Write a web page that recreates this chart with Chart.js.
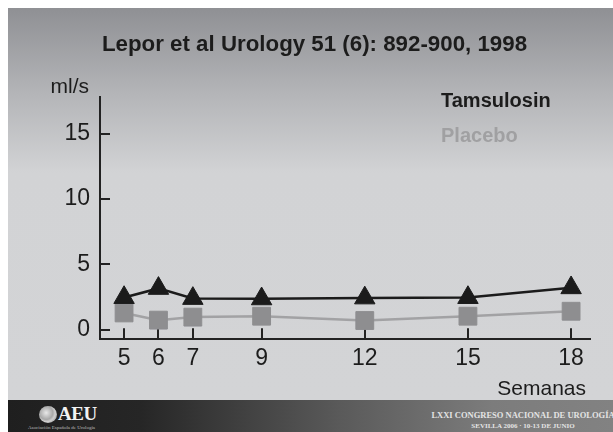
<!DOCTYPE html>
<html lang="es">
<head>
    <meta charset="UTF-8">
    <title>Lepor et al Urology 51 (6): 892-900, 1998</title>
    <script src="https://cdn.jsdelivr.net/npm/chart.js"></script>
    <style>
        body {
            margin: 0;
            background: #ffffff;
            font-family: 'Liberation Sans', Arial, sans-serif;
        }
        .lamina {
            position: relative;
            width: 613px;
            height: 432px;
            overflow: hidden;
        }
        .fondo {
            position: absolute;
            left: 8px;
            top: 8px;
            width: 605px;
            height: 392px;
            background: linear-gradient(to bottom, #8f9094 0%, #b4b5b8 22%, #d2d3d5 42%, #d3d4d6 100%);
        }
        .banda {
            position: absolute;
            left: 8px;
            top: 400px;
            width: 605px;
            height: 32px;
            background: linear-gradient(to right, #1f1f1f 0%, #262626 22%, #5a5a5a 55%, #7c7c7c 80%, #828282 100%);
        }
        .escudo {
            position: absolute;
            left: 39px;
            top: 406px;
            width: 18px;
            height: 17px;
            border-radius: 50%;
            background: radial-gradient(circle at 40% 40%, #e8e8e8 0%, #a8a8a8 45%, #d0d0d0 60%, #7a7a7a 100%);
        }
        .aeu {
            position: absolute;
            left: 58px;
            top: 403px;
            color: #f2f2f2;
            font-family: 'Liberation Serif', 'DejaVu Serif', serif;
            font-weight: bold;
            font-size: 19px;
            letter-spacing: -0.5px;
        }
        .asoc {
            position: absolute;
            left: 28px;
            top: 425px;
            color: #bdbdbd;
            font-family: 'Liberation Serif', serif;
            font-size: 5px;
            white-space: nowrap;
        }
        .congreso {
            position: absolute;
            left: 428px;
            width: 190px;
            text-align: center;
            color: #e4e4e4;
            font-family: 'Liberation Serif', 'DejaVu Serif', serif;
            font-weight: bold;
            white-space: nowrap;
        }
        canvas {
            position: absolute;
            left: 0;
            top: 0;
        }
    </style>
</head>
<body>
<div class="lamina">
    <div class="fondo"></div>
    <div class="banda"></div>
    <div class="escudo"></div>
    <div class="aeu">AEU</div>
    <div class="asoc">Asociación Española de Urología</div>
    <div class="congreso" style="top:410px;font-size:8.5px;">LXXI CONGRESO NACIONAL DE UROLOGÍA</div>
    <div class="congreso" style="top:422px;font-size:7px;">SEVILLA 2006 · 10-13 DE JUNIO</div>
    <canvas id="grafico" width="613" height="432"></canvas>
</div>
<script>
    // datos
    const semanas = [5, 6, 7, 9, 12, 15, 18];
    const tamsulosina = [2.45, 3.15, 2.38, 2.35, 2.42, 2.45, 3.2];
    const placebo = [1.27, 0.72, 0.95, 1.02, 0.69, 1.02, 1.4];
    const ticksY = [0, 5, 10, 15];
    const ticksX = semanas;

    const fuente = "'Liberation Sans', Arial, sans-serif";
    const negro = "#1c1c1c";

    function puntos(valores) {
        return semanas.map((s, i) => ({ x: s, y: valores[i] }));
    }

    // marcas de los ejes hacia dentro y textos de la lamina
    const decorado = {
        id: "decorado",
        beforeDatasetsDraw(chart) {
            const ctx = chart.ctx;
            const x = chart.scales.x, y = chart.scales.y;
            const area = chart.chartArea;
            ctx.save();
            ctx.strokeStyle = "#222222";
            ctx.lineWidth = 2;
            ctx.beginPath();
            ticksY.forEach(v => {
                const py = Math.round(y.getPixelForValue(v));
                ctx.moveTo(area.left, py);
                ctx.lineTo(area.left + 10, py);
            });
            ticksX.forEach(v => {
                const px = Math.round(x.getPixelForValue(v));
                ctx.moveTo(px, area.bottom);
                ctx.lineTo(px, area.bottom - 11);
            });
            ctx.stroke();
            ctx.restore();
        },
        afterDraw(chart) {
            const ctx = chart.ctx;
            ctx.save();
            ctx.textBaseline = "alphabetic";

            ctx.fillStyle = negro;
            ctx.font = "bold 22.3px " + fuente;
            ctx.textAlign = "center";
            ctx.fillText("Lepor et al Urology 51 (6): 892-900, 1998", 314.5, 51);

            ctx.font = "21px " + fuente;
            ctx.textAlign = "right";
            ctx.fillText("ml/s", 89, 92.5);
            ctx.fillText("Semanas", 586, 395);

            ctx.textAlign = "left";
            ctx.font = "bold 20px " + fuente;
            ctx.fillText("Tamsulosin", 441, 107);
            ctx.fillStyle = "#a0a0a2";
            ctx.fillText("Placebo", 441, 142);
            ctx.restore();
        }
    };

    new Chart(document.getElementById("grafico"), {
        type: "line",
        data: {
            datasets: [{
                label: "Tamsulosin",
                data: puntos(tamsulosina),
                borderColor: "#1b1b1b",
                borderWidth: 2.5,
                pointStyle: "triangle",
                pointRadius: 11.8,
                pointBackgroundColor: "#1b1b1b",
                pointBorderColor: "#1b1b1b",
                pointBorderWidth: 1,
                tension: 0,
                clip: false
            }, {
                label: "Placebo",
                data: puntos(placebo),
                borderColor: "#a2a2a4",
                borderWidth: 2.5,
                pointStyle: "rect",
                pointRadius: 12.6,
                pointBackgroundColor: "#8e8e90",
                pointBorderColor: "#8e8e90",
                pointBorderWidth: 1,
                tension: 0,
                clip: false
            }]
        },
        options: {
            responsive: false,
            animation: false,
            layout: {
                padding: { left: 40, right: 22.3, top: 97.3, bottom: 52.7 }
            },
            plugins: {
                legend: { display: false },
                tooltip: { enabled: false }
            },
            scales: {
                x: {
                    type: "linear",
                    min: 4.3,
                    max: 18.57,
                    afterBuildTicks: s => { s.ticks = ticksX.map(v => ({ value: v })); },
                    afterFit: s => { s.height = 40; },
                    grid: { display: false, drawTicks: false },
                    border: { display: true, color: "#222222", width: 2 },
                    ticks: {
                        padding: 6,
                        color: negro,
                        font: { family: fuente, size: 23 },
                        maxRotation: 0,
                        autoSkip: false
                    }
                },
                y: {
                    min: -0.75,
                    max: 17.8,
                    afterBuildTicks: s => { s.ticks = ticksY.map(v => ({ value: v })); },
                    afterFit: s => { s.width = 60; },
                    grid: { display: false, drawTicks: false },
                    border: { display: true, color: "#222222", width: 2 },
                    ticks: {
                        padding: 10,
                        color: negro,
                        font: { family: fuente, size: 23 }
                    }
                }
            }
        },
        plugins: [decorado]
    });
</script>
</body>
</html>
